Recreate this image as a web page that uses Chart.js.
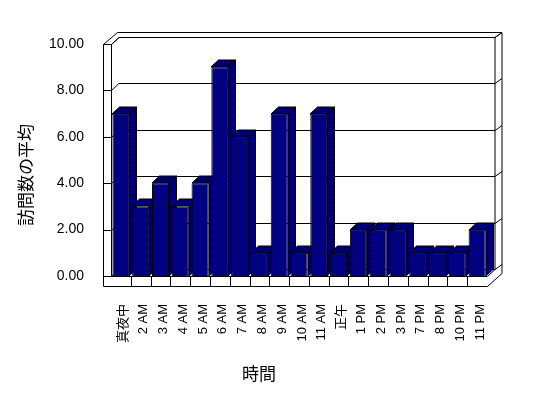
<!DOCTYPE html>
<html>
<head>
<meta charset="utf-8">
<script src="https://cdn.jsdelivr.net/npm/chart.js@4"></script>
<style>
  body { margin: 0; background: #fff; }
</style>
</head>
<body>
<canvas id="chart" width="548" height="398"></canvas>
<script>
const hours = ['真夜中', '2 AM', '3 AM', '4 AM', '5 AM', '6 AM', '7 AM', '8 AM', '9 AM', '10 AM',
    '11 AM', '正午', '1 PM', '2 PM', '3 PM', '7 PM', '8 PM', '10 PM', '11 PM'];
const visits = [7, 3, 4, 3, 4, 9, 6, 1, 7, 1, 7, 1, 2, 2, 2, 1, 1, 1, 2];
const yTicks = [0, 2, 4, 6, 8, 10];
const yTitle = '訪問数の平均';
const xTitle = '時間';

const FONT = "'Liberation Sans', 'Noto Sans CJK JP', sans-serif";
const DX = 7.5, DY = 7;   // depth of the 3d effect
const WALL = 8;           // thickness of left wall / floor

// dithered pattern for bar sides
function dither() {
    const c = document.createElement('canvas');
    c.width = 2; c.height = 2;
    const g = c.getContext('2d');
    g.fillStyle = '#000000'; g.fillRect(0, 0, 2, 2);
    g.fillStyle = '#000080'; g.fillRect(0, 0, 1, 1); g.fillRect(1, 1, 1, 1);
    return c;
}

const box3d = {
    id: 'box3d',
    beforeDatasetsDraw(chart) {
        const { ctx, chartArea: a, scales: { x, y } } = chart;
        const L = Math.round(a.left), R = Math.round(a.right);
        const T = Math.round(a.top), B = Math.round(a.bottom);
        const line = (x1, y1, x2, y2) => {
            ctx.beginPath(); ctx.moveTo(x1, y1); ctx.lineTo(x2, y2); ctx.stroke();
        };
        ctx.save();
        ctx.strokeStyle = '#000';
        ctx.lineWidth = 1;
        ctx.translate(0.5, 0.5);
        const oL = L - WALL, fB = B + 10;
        // left wall front face
        line(oL, T, oL, fB);
        line(L, T, L, B);
        line(oL, T, L, T);
        // wall tops
        line(oL, T, oL + 14, T - 12);
        line(L, T, L + DX, T - DY);
        line(oL + 14, T - 12, R + DX + 7, T - 12);
        line(R + DX, T - DY, R + DX + 7, T - 12);
        // right edges
        line(R + DX, T - DY, R + DX, B - DY);
        line(R + DX + 7, T - 12, R + DX + 7, B - 3);
        // floor
        line(L, B, R, B);
        line(oL, fB, R, fB);
        line(R, B, R + DX, B - DY);
        line(R, fB, R + DX + 7, B - 3);
        // gridlines on the walls
        yTicks.forEach(v => {
            const yy = Math.round(y.getPixelForValue(v));
            line(oL, yy, L, yy);
            line(L, yy, L + DX, yy - DY);
            line(L + DX, yy - DY, R + DX, yy - DY);
            line(R + DX, yy - DY, R + DX + 7, yy - DY - 5);
        });
        // category cells on the floor front
        const n = hours.length;
        for (let i = 1; i < n; i++) {
            const xx = Math.round(L + i * (R - L) / n);
            line(xx, B, xx, fB);
        }
        ctx.restore();

        // sides and tops of the bars
        ctx.save();
        ctx.fillStyle = ctx.createPattern(dither(), 'repeat');
        ctx.strokeStyle = '#000';
        ctx.lineWidth = 1;
        chart.getDatasetMeta(0).data.forEach(bar => {
            const p = bar.getProps(['x', 'y', 'base', 'width'], true);
            const l = Math.round(p.x - p.width / 2), r = Math.round(p.x + p.width / 2);
            const t = Math.round(p.y), b = Math.round(p.base);
            ctx.beginPath();
            ctx.moveTo(r, t); ctx.lineTo(r + DX, t - DY); ctx.lineTo(r + DX, b - DY); ctx.lineTo(r, b);
            ctx.closePath(); ctx.fill(); ctx.stroke();
            ctx.beginPath();
            ctx.moveTo(l, t); ctx.lineTo(l + DX, t - DY); ctx.lineTo(r + DX, t - DY); ctx.lineTo(r, t);
            ctx.closePath(); ctx.fill(); ctx.stroke();
        });
        ctx.restore();
    },
    afterDraw(chart) {
        const ctx = chart.ctx;
        ctx.save();
        ctx.fillStyle = '#000';
        ctx.font = "17px " + FONT;
        ctx.textAlign = 'center';
        ctx.textBaseline = 'middle';
        ctx.fillText(xTitle, 259, 375);
        ctx.translate(27, 175);
        ctx.rotate(-Math.PI / 2);
        ctx.fillText(yTitle, 0, 0);
        ctx.restore();
    }
};

new Chart(document.getElementById('chart'), {
    type: 'bar',
    data: {
        labels: hours,
        datasets: [{
            data: visits,
            backgroundColor: '#000080',
            borderColor: '#000000',
            borderWidth: 1,
            borderSkipped: 'start',
            categoryPercentage: 1,
            barPercentage: 0.86
        }]
    },
    options: {
        responsive: false,
        animation: false,
        layout: { padding: { left: 0, top: 44, right: 61, bottom: 0 } },
        plugins: { legend: { display: false }, tooltip: { enabled: false } },
        scales: {
            x: {
                grid: { display: false },
                border: { display: false },
                ticks: {
                    autoSkip: false, minRotation: 90, maxRotation: 90,
                    padding: 20, labelOffset: 3,
                    color: '#000', font: { family: FONT, size: 13 }
                },
                afterFit: s => { s.height = 122; }
            },
            y: {
                min: 0, max: 10,
                grid: { display: false },
                border: { display: false },
                ticks: {
                    stepSize: 2, padding: 19,
                    color: '#000', font: { family: FONT, size: 14 },
                    callback: v => v.toFixed(2)
                },
                afterFit: s => { s.width = 111; }
            }
        }
    },
    plugins: [box3d]
});
</script>
</body>
</html>
